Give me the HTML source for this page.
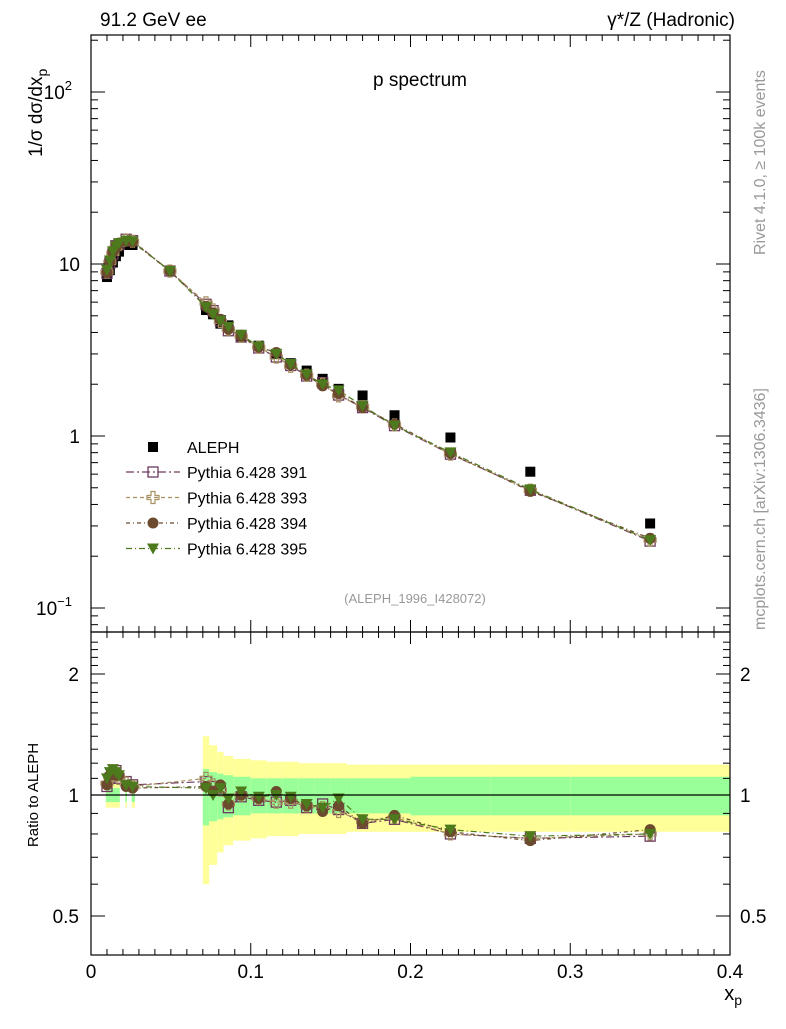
<!DOCTYPE html>
<html><head><meta charset="utf-8"><style>
body{margin:0;background:#fff}
svg text{font-family:"Liberation Sans",sans-serif}
</style></head><body>
<svg id="c" width="786" height="1024" viewBox="0 0 786 1024" xmlns="http://www.w3.org/2000/svg">
<g id="bands"></g>
<g id="upper"></g>
<g id="lower"></g>
<g id="axes"></g>
<rect x="91" y="35" width="639" height="597" fill="none" stroke="#000" stroke-width="1.2"/>
<rect x="91" y="632" width="639" height="323" fill="none" stroke="#000" stroke-width="1.2"/>
<line x1="91" y1="795" x2="730" y2="795" stroke="#000" stroke-width="1.2"/>
<text x="100" y="26" font-size="19">91.2 GeV ee</text>
<text x="735" y="26" font-size="19" text-anchor="end">γ*/Z (Hadronic)</text>
<text x="420" y="86" font-size="19" text-anchor="middle">p spectrum</text>
<text x="415" y="603" font-size="13" fill="#999" text-anchor="middle">(ALEPH_1996_I428072)</text>
<text transform="translate(42,157) rotate(-90)" font-size="19" text-anchor="start">1/σ   dσ/dx<tspan font-size="14" dy="5">p</tspan></text>
<text transform="translate(38,795) rotate(-90)" font-size="15" text-anchor="middle">Ratio to ALEPH</text>
<text x="742" y="1000" font-size="20" text-anchor="end">x<tspan font-size="14" dy="5">p</tspan></text>
<text transform="translate(765,255) rotate(-90)" font-size="16" fill="#999">Rivet 4.1.0, ≥ 100k events</text>
<text transform="translate(765,630) rotate(-90)" font-size="16" fill="#999">mcplots.cern.ch [arXiv:1306.3436]</text>
<g id="legend"></g>
</svg>
<script>
const xs=[0.0100,0.0118,0.0137,0.0156,0.0175,0.0220,0.0260,0.0494,0.0720,0.0764,0.0810,0.0860,0.0940,0.1050,0.1160,0.1250,0.1350,0.1450,0.1550,0.1700,0.1900,0.2250,0.2750,0.3500];
const aleph=[8.4,9.2,10.2,11.1,11.8,12.9,12.9,null,5.4,5.1,4.5,4.4,3.8,3.35,3.0,2.65,2.4,2.15,1.88,1.72,1.32,0.98,0.62,0.31];
const mcAt050=[9.1,9.1,9.1,9.1];
const r391=[1.05,1.10,1.12,1.15,1.10,1.08,1.06,null,1.08,1.05,1.04,0.93,0.99,0.97,0.96,0.97,0.93,0.95,0.92,0.85,0.87,0.80,0.78,0.79];
const r393=[1.07,1.11,1.13,1.12,1.10,1.07,1.05,null,1.10,1.06,1.03,0.95,1.00,0.98,0.96,0.96,0.94,0.93,0.91,0.86,0.88,0.80,0.78,0.80];
const r394=[1.06,1.12,1.15,1.12,1.12,1.05,1.04,null,1.05,1.02,1.06,0.95,1.00,0.98,1.02,0.98,0.94,0.91,0.94,0.85,0.89,0.81,0.77,0.82];
const r395=[1.10,1.14,1.16,1.14,1.12,1.06,1.05,null,1.04,1.00,1.04,0.98,1.02,0.99,1.00,0.99,0.95,0.93,0.98,0.87,0.87,0.82,0.79,0.80];
const binLo=[0.0093,0.0110,0.0128,0.0147,0.0166,0.0215,0.0255,0.0,0.0700,0.0740,0.0790,0.0830,0.0890,0.1000,0.1100,0.1200,0.1300,0.1400,0.1500,0.1600,0.1800,0.2000,0.2500,0.3000];
const binHi=[0.0110,0.0128,0.0147,0.0166,0.0180,0.0225,0.0275,0.0,0.0740,0.0790,0.0830,0.0890,0.1000,0.1100,0.1200,0.1300,0.1400,0.1500,0.1600,0.1800,0.2000,0.2500,0.3000,0.4000];
const statErr=[0.04,0.04,0.04,0.04,0.04,0.04,0.04,0,0.16,0.14,0.13,0.12,0.11,0.10,0.10,0.10,0.10,0.10,0.10,0.10,0.10,0.11,0.11,0.11];
const totErr=[0.07,0.07,0.07,0.07,0.07,0.07,0.07,0,0.40,0.33,0.28,0.25,0.23,0.22,0.21,0.21,0.20,0.20,0.20,0.19,0.19,0.19,0.19,0.19];
const xTicks=[0,0.1,0.2,0.3,0.4];
const xTickLabels=["0","0.1","0.2","0.3","0.4"];
const ns="http://www.w3.org/2000/svg";
const X=v=>91+v*1597.5;
const Y=v=>436-Math.log10(v)*172;
const R=v=>795-Math.log2(v)*121;
function el(tag,attrs,parent){const e=document.createElementNS(ns,tag);for(const k in attrs)e.setAttribute(k,attrs[k]);parent.appendChild(e);return e;}
const gB=document.getElementById('bands'),gU=document.getElementById('upper'),gL=document.getElementById('lower'),gA=document.getElementById('axes'),gLeg=document.getElementById('legend');
for(let i=0;i<xs.length;i++){if(!totErr[i])continue;
 const yb=el('rect',{x:X(binLo[i]),width:X(binHi[i])-X(binLo[i]),y:R(1+totErr[i]),height:R(1-totErr[i])-R(1+totErr[i]),fill:'#ffff99'},gB);
 
 
 const gb=el('rect',{x:X(binLo[i]),width:X(binHi[i])-X(binLo[i]),y:R(1+statErr[i]),height:R(1-statErr[i])-R(1+statErr[i]),fill:'#99ff99'},gB);
 
 
}
for(let i=0;i<xs.length;i++){if(aleph[i]==null)continue;
 const d=el('rect',{x:X(xs[i])-5,y:Y(aleph[i])-5,width:10,height:10,fill:'#000'},gU);
 
 
}
const series=[
 {name:'391',r:r391,c:'#6e3a5e',m:'sq',dash:'8,3,2,3'},
 {name:'393',r:r393,c:'#a89060',m:'cross',dash:'4,3'},
 {name:'394',r:r394,c:'#6b4a2e',m:'circ',dash:'4,3,1,3'},
 {name:'395',r:r395,c:'#4d7a1c',m:'tri',dash:'6,3,1,3'}];
function marker(m,cx,cy,c,parent){
 if(m==='sq')return el('rect',{x:cx-5,y:cy-5,width:10,height:10,fill:'none',stroke:c,'stroke-width':1.3},parent);
 if(m==='circ')return el('circle',{cx:cx,cy:cy,r:5.5,fill:c},parent);
 if(m==='tri')return el('path',{d:`M${cx-6},${cy-5}L${cx+6},${cy-5}L${cx},${cy+6}Z`,fill:c},parent);
 return el('path',{d:`M${cx-2},${cy-6}h4v4h4v4h-4v4h-4v-4h-4v-4h4Z`,fill:'none',stroke:c,'stroke-width':1.2},parent);
}
series.forEach((s,k)=>{
 const mc=xs.map((x,i)=>aleph[i]==null?mcAt050[k]:aleph[i]*s.r[i]);
 const up=xs.map((x,i)=>X(x)+','+Y(mc[i])).join(' ');
 const lu=el('polyline',{points:up,fill:'none',stroke:s.c,'stroke-width':1.2,'stroke-dasharray':s.dash},gU);
 
 
 const lp=xs.map((x,i)=>s.r[i]==null?null:X(x)+','+R(s.r[i])).filter(p=>p).join(' ');
 const ll=el('polyline',{points:lp,fill:'none',stroke:s.c,'stroke-width':1.2,'stroke-dasharray':s.dash},gL);
 
 
 xs.forEach((x,i)=>{
  const a=marker(s.m,X(x),Y(mc[i]),s.c,gU);
  
  
  if(s.r[i]==null)return;
  const b=marker(s.m,X(x),R(s.r[i]),s.c,gL);
  
  
 });
 const ly=472+k*25.5;
 const lg=el('line',{x1:126,x2:180,y1:ly,y2:ly,stroke:s.c,'stroke-width':1.2,'stroke-dasharray':s.dash},gLeg);
 
 
 const lm=marker(s.m,153,ly,s.c,gLeg);
 
 
 const lt=el('text',{x:187,y:ly+6,'font-size':16},gLeg);lt.textContent='Pythia 6.428 '+s.name;
 
 
});
const lam=el('rect',{x:148,y:442,width:10,height:10,fill:'#000'},gLeg);


const lat=el('text',{x:187,y:453,'font-size':16},gLeg);lat.textContent='ALEPH';


for(let v=0;v<=0.4001;v+=0.01){const major=Math.abs(v*10-Math.round(v*10))<1e-6;const L=major?12:6;
 el('line',{x1:X(v),x2:X(v),y1:955,y2:955-L,stroke:'#000'},gA);el('line',{x1:X(v),x2:X(v),y1:632,y2:632+L,stroke:'#000'},gA);
 el('line',{x1:X(v),x2:X(v),y1:632,y2:632-L,stroke:'#000'},gA);el('line',{x1:X(v),x2:X(v),y1:35,y2:35+L,stroke:'#000'},gA);}
xTicks.forEach((v,i)=>{const t=el('text',{x:X(v),y:978,'font-size':19,'text-anchor':'middle'},gA);t.textContent=xTickLabels[i];
 
 });
for(let e=-2;e<=2;e++)for(let m=1;m<10;m++){const v=m*Math.pow(10,e);const py=Y(v);if(py<35||py>632)continue;const L=m===1?14:7;
 el('line',{x1:91,x2:91+L,y1:py,y2:py,stroke:'#000'},gA);el('line',{x1:730,x2:730-L,y1:py,y2:py,stroke:'#000'},gA);}
[[100,'10','2'],[10,'10',''],[1,'1',''],[0.1,'10','−1']].forEach(([v,b,e])=>{const t=el('text',{x:e?72:80,y:Y(v)+7,'font-size':19,'text-anchor':'end'},gA);t.textContent=b;
 if(e){const s=el('tspan',{dy:-9,'font-size':13},t);s.textContent=e;}
 
 });
for(let v=0.5;v<=2.5;v+=0.1){const py=R(v);if(py<632||py>955)continue;const major=[0.5,1,2].some(q=>Math.abs(q-v)<1e-6);const L=major?14:7;
 el('line',{x1:91,x2:91+L,y1:py,y2:py,stroke:'#000'},gA);el('line',{x1:730,x2:730-L,y1:py,y2:py,stroke:'#000'},gA);}
[[2,'2'],[1,'1'],[0.5,'0.5']].forEach(([v,s])=>{const t=el('text',{x:79,y:R(v)+7,'font-size':19,'text-anchor':'end'},gA);t.textContent=s;
 
 
 const t2=el('text',{x:740,y:R(v)+7,'font-size':19},gA);t2.textContent=s;
 
 });
</script>
</body></html>
